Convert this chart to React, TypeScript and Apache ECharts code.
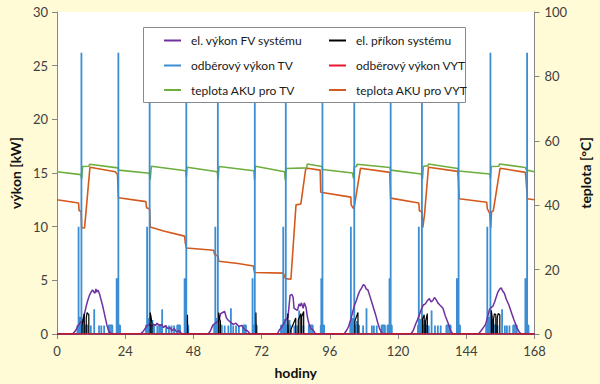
import React, { useEffect, useRef } from "react";
import * as echarts from "echarts";

// ---------- data ----------
const xTicks = [0, 24, 48, 72, 96, 120, 144, 168];

// el. výkon FV systému [h, kW]
const pvPower: [number, number][] = [
  [0, 0],
  [5.5, 0], [6.5, 0.3], [7.5, 0.8], [8.3, 1.1], [9.1, 1.2], [9.6, 1.8], [10.2, 2.5], [10.8, 3.1], [11.4, 3.6], [12.0, 3.9], [12.5, 4.1], [13.0, 3.9], [13.4, 3.8], [13.7, 4.2], [14.0, 3.9], [14.4, 4.1], [15.0, 3.7], [15.4, 3.3], [16.0, 2.7], [16.5, 2.1], [17.0, 1.5], [17.6, 0.8], [18.2, 0.3], [18.8, 0.1], [19.3, 0],
  [29.3, 0], [30.2, 0.2], [31.0, 0.5], [31.8, 0.8], [32.5, 0.9], [33.3, 0.7], [34.0, 0.9], [34.6, 0.8], [35.2, 1.0], [36.0, 0.8], [36.8, 0.9], [37.5, 0.6], [38.2, 0.8], [39.0, 0.5], [39.8, 0.6], [40.5, 0.3], [41.3, 0.5], [42.0, 0.2], [43.0, 0.3], [44.0, 0],
  [53.2, 0], [54.0, 0.3], [54.8, 0.8], [55.6, 1.0], [56.3, 1.1], [57.0, 1.3], [57.6, 1.9], [58.3, 2.0], [59.0, 2.1], [59.6, 1.5], [60.2, 1.3], [61.0, 1.1], [62.0, 0.9], [63.0, 1.0], [64.0, 0.7], [65.0, 0.8], [66.0, 0.4], [67.0, 0.3], [68.0, 0],
  [77.5, 0], [78.3, 0.4], [79.0, 0.6], [79.8, 1.0], [80.5, 1.3], [81.3, 1.6], [82.0, 3.6], [82.6, 3.7], [83.1, 3.4], [83.4, 2.4], [84.0, 2.3], [84.6, 2.2], [85.2, 2.8], [85.6, 2.6], [86.0, 2.9], [86.6, 2.4], [87.0, 2.9], [87.6, 2.5], [88.1, 1.6], [88.6, 1.0], [89.3, 0.5], [90.0, 0.4], [91.0, 0],
  [101.0, 0], [101.8, 0.3], [102.6, 0.7], [103.3, 1.3], [104.0, 2.0], [104.7, 2.7], [105.3, 3.1], [105.9, 3.6], [106.5, 4.0], [107.2, 4.3], [107.8, 4.6], [108.3, 4.5], [108.8, 4.2], [109.4, 4.1], [110.0, 3.6], [110.7, 3.0], [111.4, 2.4], [112.1, 1.8], [112.8, 1.1], [113.5, 0.5], [114.2, 0.1], [114.8, 0],
  [124.5, 0], [125.3, 0.3], [126.0, 0.8], [126.8, 1.3], [127.5, 1.8], [128.2, 2.3], [128.9, 2.7], [129.6, 2.8], [130.3, 3.1], [131.0, 3.3], [131.6, 3.0], [132.2, 3.1], [132.8, 3.4], [133.4, 3.2], [134.0, 2.9], [134.7, 2.7], [135.8, 2.4], [136.6, 1.7], [137.5, 1.1], [138.5, 0.3], [139.3, 0],
  [148.3, 0], [149.2, 0.3], [150.0, 0.6], [150.8, 0.9], [151.5, 1.6], [152.2, 2.3], [152.9, 2.5], [153.4, 2.6], [154.0, 3.0], [154.6, 3.5], [155.1, 3.9], [155.8, 4.2], [156.3, 4.3], [156.8, 4.0], [157.4, 3.8], [158.0, 3.3], [159.0, 2.7], [160.0, 1.9], [160.8, 1.3], [161.8, 0.6], [162.6, 0.2], [163.3, 0],
  [168, 0],
];

// el. příkon systému [h, kW]
const sysInput: [number, number][] = [
  [0, 0],
  [8.8, 0], [8.8, 0.8], [9.6, 1.9], [9.6, 0],
  [10.3, 0], [10.3, 1.5], [10.6, 2.0], [11.2, 1.8], [11.2, 0],
  [32.8, 0], [32.8, 2.0], [33.1, 1.6], [33.4, 1.0], [33.4, 0],
  [45.9, 0], [45.9, 1.8], [46.0, 0],
  [56.9, 0], [56.9, 2.0], [57.2, 1.4], [57.5, 1.2], [57.5, 0],
  [70.0, 0], [70.0, 2.0], [70.1, 0],
  [81.2, 0], [81.2, 1.9], [81.4, 0],
  [82.3, 0], [82.3, 0.4], [84.0, 1.5], [84.0, 0],
  [84.9, 0], [84.9, 1.3], [85.8, 1.9], [85.8, 0],
  [86.1, 0], [86.1, 1.6], [86.8, 2.1], [86.8, 0],
  [104.8, 0], [104.8, 1.2], [105.9, 2.0], [105.9, 0],
  [128.6, 0], [128.6, 1.4], [129.2, 1.8], [129.2, 0],
  [129.7, 0], [129.7, 1.2], [130.3, 1.9], [130.3, 0],
  [152.8, 0], [152.8, 2.2], [153.1, 1.6], [153.1, 0],
  [153.6, 0], [153.6, 1.4], [153.9, 1.9], [154.4, 1.8], [154.4, 0],
  [154.9, 0], [154.9, 1.5], [155.2, 1.9], [155.8, 1.8], [155.8, 0],
  [168, 0],
];

// odběrový výkon TV: short draws [h, kW]
const tvSpikes: [number, number][] = [
  [7.6, 10.0], [8.0, 1.6], [8.6, 26.2], [9.3, 1.4], [11.9, 0.8], [13.1, 2.3], [14.8, 0.8], [15.6, 0.8], [16.6, 0.8], [21.0, 5.2], [21.6, 26.2],
  [31.7, 10.0], [32.0, 1.5], [32.6, 26.2], [33.6, 1.3], [35.3, 0.8], [37.0, 2.3], [38.4, 0.8], [39.4, 0.8], [40.3, 0.8], [41.2, 0.8], [44.9, 5.2], [45.5, 26.2],
  [55.7, 10.0], [56.2, 1.5], [56.6, 26.2], [57.4, 1.2], [59.0, 0.8], [60.3, 0.8], [61.2, 2.4], [62.0, 0.8], [63.0, 0.8], [64.0, 0.8], [68.8, 5.2], [69.6, 26.2],
  [79.6, 10.0], [80.0, 1.4], [80.5, 26.2], [81.8, 1.3], [83.5, 0.8], [84.5, 0.8], [85.2, 2.2], [86.7, 0.8], [93.0, 5.2], [93.4, 26.2],
  [103.4, 10.0], [104.0, 1.5], [104.6, 26.2], [105.5, 1.2], [107.7, 0.8], [108.9, 2.4], [110.8, 0.8], [111.5, 0.8], [112.5, 0.8], [117.0, 5.2], [117.4, 26.2],
  [127.3, 10.0], [127.8, 1.4], [128.4, 26.2], [129.3, 1.3], [130.8, 0.8], [131.8, 2.2], [133.0, 0.8], [134.0, 0.8], [135.0, 0.8], [140.7, 5.2], [141.3, 26.2],
  [151.4, 10.0], [152.0, 1.6], [152.5, 26.2], [153.3, 1.4], [155.0, 0.8], [156.6, 2.3], [157.6, 0.8], [158.3, 0.8], [159.2, 0.8], [164.8, 5.2], [165.4, 26.2],
];

// odběrový výkon TV: longer low draws [start h, end h, kW]
const tvBlocks: [number, number, number][] = [
  [7.2, 8.4, 0.8], [8.8, 10.0, 0.8], [10.5, 10.8, 0.8], [18.2, 19.5, 0.8], [21.2, 22.2, 0.8],
  [31.3, 32.4, 0.8], [32.8, 34.2, 0.8], [36.0, 36.6, 0.8], [42.3, 43.3, 0.8], [45.1, 46.2, 0.8],
  [55.3, 56.4, 0.8], [56.8, 58.0, 0.8], [65.4, 66.5, 0.8], [69.0, 70.3, 0.8],
  [78.8, 80.3, 0.8], [80.7, 82.2, 0.8], [88.6, 90.0, 0.8], [92.8, 94.0, 0.8],
  [103.2, 104.4, 0.8], [104.8, 106.3, 0.8], [114.2, 115.4, 0.8], [116.3, 117.8, 0.8],
  [127.0, 128.2, 0.8], [128.6, 130.0, 0.8], [137.0, 138.5, 0.8], [140.9, 141.8, 0.8],
  [151.0, 152.3, 0.8], [152.7, 154.5, 0.8], [160.5, 161.8, 0.8], [165.0, 165.9, 0.8],
];

// odběrový výkon VYT [h, kW]
const vytPower: [number, number][] = [[0, 0], [168, 0]];

// teplota AKU pro TV [h, °C]
const tempTV: [number, number][] = [
  [0, 50.4], [8.4, 49.5], [8.7, 48.2], [9.0, 52.0], [11.2, 52.1], [11.5, 52.7], [21.4, 51.6], [21.7, 50.9],
  [32.5, 49.9], [32.8, 47.9], [33.2, 52.1], [45.3, 50.7], [45.5, 48.7], [45.8, 51.8],
  [56.4, 50.4], [56.7, 48.0], [57.0, 52.0], [69.3, 50.7], [69.5, 47.9], [69.8, 52.1],
  [80.1, 50.4], [80.3, 47.9], [80.6, 51.4], [87.8, 51.6], [88.1, 52.8], [93.2, 52.0], [93.4, 51.1],
  [104.0, 50.0], [104.3, 48.3], [104.6, 51.9], [105.4, 52.0], [105.6, 52.7], [117.1, 51.7], [117.4, 50.9],
  [128.2, 49.7], [128.6, 48.1], [128.9, 52.1], [130.5, 52.2], [130.7, 52.8], [141.0, 51.4], [141.3, 50.6],
  [152.3, 49.7], [152.5, 48.3], [152.8, 52.0], [155.5, 52.1], [155.7, 52.8], [164.8, 51.7], [165.2, 50.9], [168, 50.4],
];

// teplota AKU pro VYT [h, °C]
const tempVYT: [number, number][] = [
  [0, 41.7], [7.6, 40.7], [7.8, 38.3], [8.5, 38.1], [8.7, 33.0], [9.7, 32.9], [11.6, 51.8], [20.5, 50.4], [21.3, 49.5], [21.6, 42.3],
  [31.3, 41.1], [31.5, 39.2], [32.6, 38.8], [32.8, 33.2], [37.5, 32.0], [44.9, 30.4], [45.2, 28.0], [45.6, 26.7],
  [55.1, 26.0], [55.5, 24.6], [56.7, 24.2], [56.9, 22.6], [63.7, 21.9], [69.1, 21.1], [69.5, 19.1], [79.6, 18.9], [80.4, 17.2], [82.3, 17.0],
  [84.1, 40.1], [85.8, 40.4], [87.5, 51.2], [88.1, 51.5], [92.6, 50.9], [92.8, 44.0],
  [103.4, 42.5], [103.5, 40.1], [104.2, 39.1], [104.5, 39.0], [106.8, 51.5], [117.1, 50.2], [117.4, 42.2],
  [127.3, 40.7], [127.5, 38.3], [128.4, 38.0], [128.7, 33.0], [129.3, 37.0], [130.7, 51.8], [141.0, 50.5], [141.2, 48.3], [141.5, 42.0],
  [151.2, 40.9], [151.4, 38.9], [152.3, 37.4], [152.6, 32.9], [152.9, 38.0], [153.5, 38.2], [155.9, 51.5], [164.8, 50.2], [165.0, 48.3], [165.5, 42.0], [168, 41.7],
];

const names = {
  pv: "el. výkon FV systému",
  sys: "el. příkon systému",
  tv: "odběrový výkon TV",
  vyt: "odběrový výkon VYT",
  tTV: "teplota AKU pro TV",
  tVYT: "teplota AKU pro VYT",
};

const colors = {
  pv: "#7030A0",
  sys: "#000000",
  tv: "#3B8ED3",
  vyt: "#E8182A",
  tTV: "#6DAE3C",
  tVYT: "#D4591C",
};

// legend layout: two columns, three rows
const legendColumns: (keyof typeof names)[][] = [
  ["pv", "tv", "tTV"],
  ["sys", "vyt", "tVYT"],
];

function buildTv(): number[][] {
  const ev: number[][] = [
    ...tvSpikes.map(([h, v]) => [h, h, v]),
    ...tvBlocks.map((b) => [b[0], b[1], b[2]]),
  ];
  ev.sort((a, b) => a[0] - b[0]);
  const pts: number[][] = [[0, 0]];
  for (const [s, e, v] of ev) {
    pts.push([s, 0], [s, v], [e, v], [e, 0]);
  }
  pts.push([168, 0]);
  return pts;
}

const FONT = "Lato, 'Open Sans', sans-serif";

function legendGraphics(): any[] {
  const colX = [164, 329];
  const rowY = [40.5, 65.5, 90];
  const items: any[] = [
    {
      type: "rect",
      z: 50,
      shape: { x: 143.5, y: 27.5, width: 322, height: 75 },
      style: { fill: "#ffffff", stroke: "#8a8a8a", lineWidth: 1 },
    },
  ];
  legendColumns.forEach((col, ci) => {
    col.forEach((key, ri) => {
      items.push({
        type: "line",
        z: 51,
        shape: { x1: colX[ci], y1: rowY[ri], x2: colX[ci] + 17, y2: rowY[ri] },
        style: { stroke: colors[key], lineWidth: 2 },
      });
      items.push({
        type: "text",
        z: 51,
        x: colX[ci] + 27,
        y: rowY[ri],
        style: {
          text: names[key],
          fill: "#1a1a1a",
          font: `12px ${FONT}`,
          verticalAlign: "middle",
          align: "left",
        },
      });
    });
  });
  return items;
}

export default function App() {
  const ref = useRef<HTMLDivElement>(null);
  useEffect(() => {
    if (!ref.current) return;
    const chart = echarts.init(ref.current, undefined, { renderer: "svg" });
    const axisCommon = {
      axisLine: { show: true, lineStyle: { color: "#868686", width: 1 } },
      axisTick: { show: true, inside: false, length: 5, lineStyle: { color: "#868686" } },
      splitLine: { show: false },
      axisLabel: { color: "#404040", fontSize: 13, fontFamily: FONT },
      nameTextStyle: { color: "#111", fontSize: 14, fontWeight: "bold" as const, fontFamily: FONT },
    };
    const lineBase = {
      type: "line" as const,
      showSymbol: false,
      symbol: "none",
      animation: false,
    };
    chart.setOption({
      animation: false,
      backgroundColor: "transparent",
      grid: {
        left: 53,
        right: 54,
        top: 12,
        bottom: 48,
        show: true,
        backgroundColor: "#ffffff",
        borderWidth: 0,
        containLabel: false,
      },
      xAxis: {
        type: "value",
        min: xTicks[0],
        max: xTicks[xTicks.length - 1],
        interval: 24,
        name: "hodiny",
        nameLocation: "middle",
        nameGap: 31,
        ...axisCommon,
        axisLabel: { ...axisCommon.axisLabel, margin: 10 },
      },
      yAxis: [
        {
          type: "value",
          min: 0,
          max: 30,
          interval: 5,
          name: "výkon [kW]",
          nameLocation: "middle",
          nameGap: 33,
          nameRotate: 90,
          ...axisCommon,
          axisLabel: { ...axisCommon.axisLabel, margin: 9 },
        },
        {
          type: "value",
          min: 0,
          max: 100,
          interval: 20,
          name: "teplota [°C]",
          nameLocation: "middle",
          nameGap: 38,
          nameRotate: 90,
          position: "right",
          ...axisCommon,
          axisLabel: { ...axisCommon.axisLabel, margin: 10 },
        },
      ],
      graphic: legendGraphics(),
      series: [
        {
          ...lineBase,
          name: names.tVYT,
          yAxisIndex: 1,
          data: tempVYT,
          z: 2,
          color: colors.tVYT,
          lineStyle: { color: colors.tVYT, width: 1.6 },
        },
        {
          ...lineBase,
          name: names.tTV,
          yAxisIndex: 1,
          data: tempTV,
          z: 2,
          color: colors.tTV,
          lineStyle: { color: colors.tTV, width: 1.6 },
        },
        {
          ...lineBase,
          name: names.tv,
          yAxisIndex: 0,
          data: buildTv(),
          z: 3,
          color: colors.tv,
          lineStyle: { color: colors.tv, width: 1.8 },
          areaStyle: { color: colors.tv, opacity: 0.9 },
        },
        {
          ...lineBase,
          name: names.pv,
          yAxisIndex: 0,
          data: pvPower,
          z: 4,
          color: colors.pv,
          lineStyle: { color: colors.pv, width: 1.5 },
        },
        {
          ...lineBase,
          name: names.sys,
          yAxisIndex: 0,
          data: sysInput,
          z: 4,
          color: colors.sys,
          lineStyle: { color: colors.sys, width: 1.2 },
        },
        {
          ...lineBase,
          name: names.vyt,
          yAxisIndex: 0,
          data: vytPower,
          z: 4,
          color: colors.vyt,
          lineStyle: { color: colors.vyt, width: 1.5 },
        },
      ],
    });
    return () => chart.dispose();
  }, []);
  return (
    <div
      style={{
        position: "fixed",
        left: 0,
        top: 0,
        width: 600,
        height: 384,
        background: "#FEFBD6",
      }}
    >
      <div ref={ref} style={{ width: 600, height: 384 }} />
    </div>
  );
}
